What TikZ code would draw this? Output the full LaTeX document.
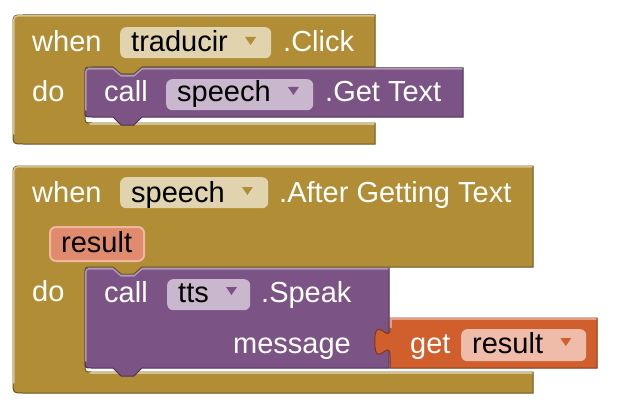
\documentclass[tikz,border=0pt]{standalone}
\usepackage{fontspec}
\setmainfont{Liberation Sans}
\usetikzlibrary{positioning,calc}
\definecolor{ctrl}{RGB}{177,142,53}
\definecolor{ctrlpill}{RGB}{224,211,173}
\definecolor{meth}{RGB}{124,83,133}
\definecolor{methpill}{RGB}{200,183,205}
\definecolor{var}{RGB}{208,95,45}
\definecolor{varpill}{RGB}{238,188,168}
\definecolor{param}{RGB}{224,139,110}
\definecolor{paramedge}{RGB}{240,182,158}
\tikzset{
  lbl/.style={anchor=base west,inner sep=0pt,text=white},
  fld/.style={anchor=base west,inner sep=0pt,text=black},
  pill/.style={anchor=north west,inner sep=0pt,rounded corners=6pt},
  ctrlblk/.style={fill=ctrl,draw=ctrl!60!black,line width=1pt},
  methblk/.style={fill=meth,draw=meth!60!black,line width=1pt},
  varblk/.style={fill=var,draw=var!60!black,line width=1pt},
  hilite/.style={line width=1.5pt,line cap=round},
}
\newcommand*{\ddarrow}[2]{\fill[#2] ($(#1.base east)+(17,-15)$) -- ++(11,0) -- ++(-5.5,8) -- cycle;}

\begin{document}
\begin{tikzpicture}[x=1pt,y=-1pt,font=\fontsize{29}{34}\selectfont]
\useasboundingbox (0,0) rectangle (617,409);
% when traducir.Click
\draw[ctrlblk] (23,15) -- (375,15) -- (375,67) -- (142,67) -- (134,74) -- (121,74) -- (113,67) -- (92,67) .. controls (85,67) .. (85,74) -- (85,116) .. controls (85,123) .. (92,123) -- (375,123) -- (375,144) -- (23,144) .. controls (13,144) .. (13,134) -- (13,25) .. controls (13,15) .. (23,15) -- cycle;
\draw[hilite,ctrl!55!white] (13.8,134) -- (13.8,25) .. controls (13.8,15.8) .. (23,15.8) -- (374,15.8);
\draw[hilite,ctrl!55!white] (90,123.8) -- (374,123.8);
\draw[methblk] (92,68) -- (113,68) -- (121,75) -- (134,75) -- (142,68) -- (463,68) -- (463,117) -- (142,117) -- (134,125) -- (121,125) -- (113,117) -- (92,117) .. controls (85,117) .. (85,110) -- (85,75) .. controls (85,68) .. (92,68) -- cycle;
\draw[hilite,meth!60!white] (85.8,110) -- (85.8,75) .. controls (85.8,68.8) .. (92,68.8) -- (113,68.8) -- (121,75.8) -- (134,75.8) -- (142,68.8) -- (462,68.8);

\node[lbl] (when1) at (32,52) {when};
\node[pill,fill=ctrlpill,minimum width=151pt,minimum height=31pt] (trbox) at (120,27) {};
\node[fld] (trtxt) at (131,52) {traducir};
\ddarrow{trtxt}{ctrl}
\node[lbl] (click) at (283,52) {.Click};
\node[lbl] (do1) at (32,102) {do};
\node[lbl] (call1) at (104,102) {call};
\node[pill,fill=methpill,minimum width=147pt,minimum height=31pt] (spbox1) at (166,79) {};
\node[fld] (sptxt1) at (177,102) {speech};
\ddarrow{sptxt1}{meth}
\node[lbl] (gettext) at (325,102) {.Get Text};

% when speech.AfterGettingText
\draw[ctrlblk] (23,166) -- (533,166) -- (533,267) -- (142,267) -- (134,274) -- (121,274) -- (113,267) -- (92,267) .. controls (85,267) .. (85,274) -- (85,365) .. controls (85,372) .. (92,372) -- (533,372) -- (533,393) -- (23,393) .. controls (13,393) .. (13,383) -- (13,176) .. controls (13,166) .. (23,166) -- cycle;
\draw[hilite,ctrl!55!white] (13.8,383) -- (13.8,176) .. controls (13.8,166.8) .. (23,166.8) -- (532,166.8);
\draw[hilite,ctrl!55!white] (90,372.8) -- (532,372.8);
\draw[methblk] (92,268) -- (113,268) -- (121,275) -- (134,275) -- (142,268) -- (389,268) -- (389,368) -- (142,368) -- (134,376) -- (121,376) -- (113,368) -- (92,368) .. controls (85,368) .. (85,361) -- (85,275) .. controls (85,268) .. (92,268) -- cycle;
\draw[hilite,meth!60!white] (85.8,361) -- (85.8,275) .. controls (85.8,268.8) .. (92,268.8) -- (113,268.8) -- (121,275.8) -- (134,275.8) -- (142,268.8) -- (388,268.8);
\draw[varblk] (390,318) -- (597,318) -- (597,368) -- (390,368) -- (390,356) .. controls (390,337) and (374.8,371.2) .. (374.8,341.75) .. controls (374.8,312.3) and (390,346.5) .. (390,327.5) -- cycle;
\draw[hilite,var!60!white] (390.8,327.5) -- (390.8,318.8) -- (596,318.8);

\node[lbl] (when2) at (32,202) {when};
\node[pill,fill=ctrlpill,minimum width=148pt,minimum height=31pt] (spbox2) at (120,177) {};
\node[fld] (sptxt2) at (131,202) {speech};
\ddarrow{sptxt2}{ctrl}
\node[lbl] (afterget) at (279,202) {.After Getting Text};
\node[pill,fill=param,draw=paramedge,line width=2pt,minimum width=94pt,minimum height=34pt] (resbox1) at (49,226) {};
\node[fld] (restxt1) at (61,252) {result};
\node[lbl] (do2) at (32,301) {do};
\node[lbl] (call2) at (104,302) {call};
\node[pill,fill=methpill,minimum width=83pt,minimum height=31pt] (ttsbox) at (167,279) {};
\node[fld] (ttstxt) at (178,302) {tts};
\ddarrow{ttstxt}{meth}
\node[lbl] (speak) at (261,302) {.Speak};
\node[lbl,anchor=base east] (msg) at (351,353) {message};
\node[lbl] (get) at (410,353) {get};
\node[pill,fill=varpill,minimum width=125pt,minimum height=32pt] (resbox2) at (461,329) {};
\node[fld] (restxt2) at (472,353) {result};
\ddarrow{restxt2}{var}
\end{tikzpicture}
\end{document}
